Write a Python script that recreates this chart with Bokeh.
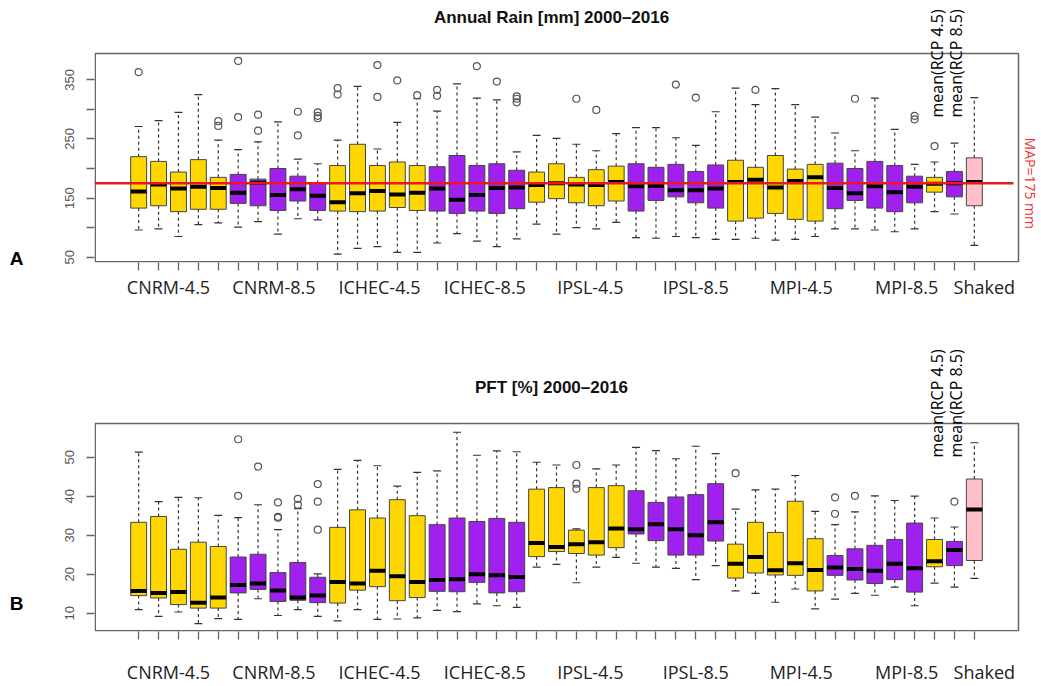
import math
import numpy as np
from bokeh.plotting import figure
from bokeh.models import (ColumnDataSource, Range1d, FixedTicker, LinearAxis)
from bokeh.core.properties import value
from bokeh.layouts import column
from bokeh.embed import file_html
from bokeh.resources import INLINE

# ---------------- data ----------------
group_labels = ["CNRM-4.5", "CNRM-8.5", "ICHEC-4.5", "ICHEC-8.5",
                "IPSL-4.5", "IPSL-8.5", "MPI-4.5", "MPI-8.5", "Shaked"]
box_scenario = (["4.5"] * 5 + ["8.5"] * 5) * 4 + ["4.5", "8.5", "obs"]
mean_labels = ["mean(RCP 4.5)", "mean(RCP 8.5)"]
MAP = 175

rain_lw = [96, 98, 85, 105, 108, 101, 110, 89, 115, 113,
           55, 65, 68, 58, 58, 74, 90, 77, 68, 81,
           106, 89, 100, 98, 109, 83, 82, 85, 83, 80,
           80, 82, 79, 80, 85, 98, 98, 96, 93, 98,
           127, 123, 70]
rain_q1 = [133, 137, 127, 131, 131, 141, 137, 129, 145, 129,
           128, 127, 128, 134, 129, 128, 124, 128, 124, 132,
           143, 149, 142, 137, 145, 128, 146, 152, 142, 133,
           111, 116, 124, 114, 111, 132, 146, 133, 127, 142,
           160, 152, 137]
rain_med = [161, 173, 166, 169, 167, 159, 176, 155, 165, 154,
            143, 158, 162, 156, 159, 166, 147, 155, 167, 168,
            172, 175, 173, 172, 177, 170, 171, 163, 163, 166,
            177, 181, 168, 179, 185, 167, 158, 170, 160, 169,
            174, 175, 177]
rain_q3 = [220, 212, 194, 215, 185, 190, 182, 200, 187, 175,
           205, 241, 205, 211, 205, 203, 222, 205, 208, 197,
           194, 208, 185, 198, 204, 208, 202, 207, 195, 206,
           214, 202, 222, 199, 207, 209, 200, 212, 205, 187,
           185, 195, 218]
rain_uw = [271, 281, 295, 325, 248, 232, 245, 279, 216, 208,
           248, 339, 233, 278, 318, 297, 343, 319, 316, 228,
           256, 251, 241, 230, 259, 269, 269, 252, 239, 296,
           336, 308, 335, 308, 287, 260, 230, 319, 266, 207,
           211, 243, 320]
rain_out = [[363], [], [], [], [272, 280], [287, 382], [264, 291], [], [256, 296], [285, 289, 295],
            [325, 336], [], [321, 375], [349], [324], [323, 333], [], [373], [347], [312, 318, 322],
            [], [], [318], [299], [], [], [], [342], [320], [],
            [], [333], [], [], [], [], [318], [], [], [283, 289],
            [238], [], []]

pft_lw = [10.9, 9.2, 10.3, 7.3, 8.6, 8.4, 13.7, 9.4, 10.9, 9.2,
          8.0, 10.9, 8.4, 8.5, 8.8, 10.7, 10.4, 12.4, 11.9, 11.5,
          21.8, 22.5, 17.8, 21.8, 24.3, 22.8, 21.8, 21.5, 18.6, 22.2,
          15.7, 15.1, 12.8, 16.2, 11.1, 13.6, 15.1, 14.6, 16.7, 11.9,
          17.7, 16.7, 18.9]
pft_q1 = [14.5, 13.9, 12.2, 11.3, 11.3, 15.2, 16.1, 13.0, 13.3, 12.7,
          12.6, 15.9, 16.8, 13.2, 14.0, 15.6, 15.5, 17.9, 15.2, 15.5,
          24.5, 25.8, 25.3, 24.9, 26.8, 30.3, 28.6, 24.9, 24.9, 28.5,
          19.0, 20.3, 19.8, 19.7, 15.7, 19.7, 18.5, 17.6, 18.6, 15.4,
          21.9, 22.2, 23.5]
pft_med = [15.7, 15.2, 15.4, 12.7, 14.0, 17.2, 17.6, 15.8, 14.0, 14.5,
           18.0, 17.6, 20.9, 19.5, 18.0, 18.5, 18.7, 20.0, 19.7, 19.3,
           28.0, 27.0, 27.7, 28.2, 31.7, 31.5, 32.8, 31.5, 30.0, 33.3,
           22.7, 24.4, 21.0, 22.8, 21.1, 21.7, 21.3, 20.9, 22.7, 21.5,
           23.3, 26.2, 36.6]
pft_q3 = [33.3, 34.8, 26.4, 28.2, 27.1, 24.4, 25.1, 20.4, 23.0, 19.2,
          32.0, 36.5, 34.4, 39.1, 35.0, 32.7, 34.4, 33.5, 34.3, 33.3,
          41.8, 42.2, 31.3, 42.2, 42.7, 41.4, 38.4, 39.8, 40.4, 43.2,
          27.7, 33.3, 30.7, 38.7, 29.1, 24.8, 26.5, 27.4, 28.9, 33.1,
          28.9, 28.4, 44.4]
pft_uw = [51.3, 38.6, 39.7, 39.6, 35.1, 34.5, 37.8, 31.4, 36.8, 20.1,
          46.9, 49.2, 47.8, 42.6, 46.1, 46.5, 56.4, 50.5, 51.6, 51.4,
          48.7, 48.0, 31.6, 47.0, 48.0, 52.5, 51.7, 49.6, 52.8, 50.9,
          36.7, 41.6, 41.8, 45.3, 36.1, 32.7, 36.0, 40.1, 38.9, 40.0,
          34.4, 32.1, 53.7]
pft_out = [[], [], [], [], [], [40.1, 54.6], [47.6], [34.5, 34.7, 38.4], [37.8, 39.3], [31.4, 38.6, 43.1],
           [], [], [], [], [], [], [], [], [], [],
           [], [], [41.9, 43.2, 48.0], [], [], [], [], [], [], [],
           [45.9], [], [], [], [], [35.5, 39.7], [40.1], [], [], [],
           [], [38.6], []]

# ---------------- styling / layout ----------------
COLORS = {"4.5": "#FFD700", "8.5": "#A020F0", "obs": "#FFC0CB"}
W = 1041
FRAME_L = 94          # left edge of the plotting box (px)
BOX_R_GAP = 23        # gap between plotting box and right page edge (px)
n_box = len(rain_med)
xs = np.arange(1, n_box + 1, dtype=float)
x_rng = (0.5 - 0.04 * n_box, n_box + 0.5 + 0.04 * n_box)     # R-style box x-limits
px_per_x = (W - FRAME_L - BOX_R_GAP) / (x_rng[1] - x_rng[0])
x_frame_end = x_rng[1] + BOX_R_GAP / px_per_x                 # frame runs to page edge

# group label placement (text laid out a bit wider than the box groups)
label_pos = [2.5 + 5.3 * k for k in range(8)] + [n_box + 0.5]
overrides = {lp: name for lp, name in zip(label_pos, group_labels)}


def make_panel(title, height, box_top_px, bottom, box_yr, yticks, ylabels,
               lw, q1, med, q3, uw, outs, xlab_standoff, letter, letter_px,
               mean_end_px, title_px):
    plot_h = height - bottom
    y0, y1 = box_yr
    scale = (plot_h - box_top_px) / (y1 - y0)           # px per data unit
    y_top = y1 + box_top_px / scale                     # frame extends to canvas top
    to_val = lambda px: y1 - (px - box_top_px) / scale   # canvas px (from top) -> data

    p = figure(width=W, height=height, output_backend="svg", toolbar_location=None,
               title=None, x_range=Range1d(x_rng[0], x_frame_end), y_range=Range1d(y0, y_top),
               min_border_left=FRAME_L, min_border_right=0,
               min_border_top=0, min_border_bottom=bottom,
               background_fill_color="white", border_fill_color="white")
    p.xgrid.visible = False
    p.ygrid.visible = False
    p.outline_line_color = None

    # R-style box around the plotting region (inset by half a line width at frame edges)
    p.quad(left=[x_rng[0] + 0.75 / px_per_x], right=[x_rng[1]],
           bottom=[y0 + 0.75 / scale], top=[y1],
           fill_color=None, line_color="#666666", line_width=1.5)

    # title
    p.text(x=[(x_rng[0] + x_rng[1]) / 2 - 0.25], y=[to_val(title_px)], text=[title],
           text_align="center", text_baseline="middle", text_font=value("Liberation Sans"),
           text_font_style="bold", text_font_size="17px", text_color="#111111")

    # x axis: minor ticks at every box, labels at group positions
    xa = p.xaxis[0]
    xa.ticker = FixedTicker(ticks=label_pos, minor_ticks=list(xs))
    xa.major_label_overrides = overrides
    xa.major_tick_out = 0
    xa.major_tick_in = 0
    xa.minor_tick_out = 8
    xa.minor_tick_in = 0
    xa.minor_tick_line_color = "#666666"
    xa.minor_tick_line_width = 1.3
    xa.axis_line_color = None
    xa.major_label_standoff = xlab_standoff
    xa.major_label_text_font = "Open Sans"
    xa.major_label_text_font_size = "18px"
    xa.major_label_text_color = "#222222"

    ya = p.yaxis[0]
    ya.ticker = FixedTicker(ticks=yticks)
    ya.major_label_overrides = ylabels
    ya.major_label_orientation = "vertical"
    ya.axis_line_color = None
    ya.major_tick_out = 8
    ya.major_tick_in = 0
    ya.major_tick_line_color = "#666666"
    ya.major_tick_line_width = 1.3
    ya.minor_tick_line_color = None
    ya.major_label_standoff = 12
    ya.major_label_text_font = "Liberation Sans"
    ya.major_label_text_font_size = "13px"
    ya.major_label_text_color = "#555555"

    # panel letter as an outer left axis
    lv = to_val(letter_px)
    la = LinearAxis(ticker=FixedTicker(ticks=[lv], minor_ticks=[]),
                    major_label_overrides={lv: letter}, axis_line_color=None,
                    major_tick_line_color=None, minor_tick_line_color=None,
                    major_label_standoff=33, major_label_orientation="horizontal",
                    major_label_text_font="Liberation Sans", major_label_text_font_style="bold",
                    major_label_text_font_size="19px", major_label_text_color="black")
    p.add_layout(la, "left")

    colors = [COLORS[s] for s in box_scenario]
    src = ColumnDataSource(dict(x=xs, x0=xs - 0.4, x1=xs + 0.4, s0=xs - 0.2, s1=xs + 0.2,
                                lw=lw, q1=q1, med=med, q3=q3, uw=uw, color=colors))
    p.segment(x0="x", y0="q3", x1="x", y1="uw", source=src, line_color="#333333",
              line_width=1.2, line_dash="3 3")
    p.segment(x0="x", y0="q1", x1="x", y1="lw", source=src, line_color="#333333",
              line_width=1.2, line_dash="3 3")
    p.segment(x0="s0", y0="uw", x1="s1", y1="uw", source=src, line_color="#333333", line_width=1.2)
    p.segment(x0="s0", y0="lw", x1="s1", y1="lw", source=src, line_color="#333333", line_width=1.2)
    p.vbar(x="x", width=0.8, top="q3", bottom="q1", source=src, fill_color="color",
           line_color="#444444", line_width=1)
    p.segment(x0="x0", y0="med", x1="x1", y1="med", source=src, line_color="black", line_width=4)

    ox = [xs[i] for i, o in enumerate(outs) for _ in o]
    oy = [v for o in outs for v in o]
    p.scatter(ox, oy, marker="circle", size=7, fill_color=None, line_color="#555555",
              line_width=1.2)

    # vertical "mean(...)" labels above the two ensemble-mean boxes
    my = to_val(mean_end_px)
    p.text(x=list(xs[40:42] + 0.1), y=[my, my], text=mean_labels, angle=math.pi / 2,
           text_align="left", text_baseline="middle", text_font=value("Open Sans"),
           text_font_size="16px", text_color="black")
    return p


# ---------------- panel A ----------------
p1 = make_panel("Annual Rain [mm] 2000\u20132016", 330, 53, 68, (41, 394.5),
                [50, 100, 150, 200, 250, 300, 350], {100: "", 200: "", 300: ""},
                rain_lw, rain_q1, rain_med, rain_q3, rain_uw, rain_out, 4,
                "A", 258, 117, 17)
# mean annual precipitation line across the plotting box, with its label on the right
p1.segment(x0=[x_rng[0]], y0=[MAP], x1=[x_rng[1] - 0.25], y1=[MAP],
           line_color="#E41A1C", line_width=2.5)
p1.text(x=[x_rng[1] + 12 / px_per_x], y=[MAP], text=["MAP=%d mm" % MAP], angle=-math.pi / 2,
        text_align="center", text_baseline="middle", text_font=value("Open Sans"),
        text_font_size="14px", text_color="#F03030")

# ---------------- panel B ----------------
p2 = make_panel("PFT [%] 2000\u20132016", 356, 93, 55, (5.3, 58.64),
                [10, 20, 30, 40, 50], {},
                pft_lw, pft_q1, pft_med, pft_q3, pft_uw, pft_out, 20,
                "B", 273, 127, 57)

layout = column(p1, p2, spacing=0)
open("out.html", "w").write(file_html(layout, INLINE))
